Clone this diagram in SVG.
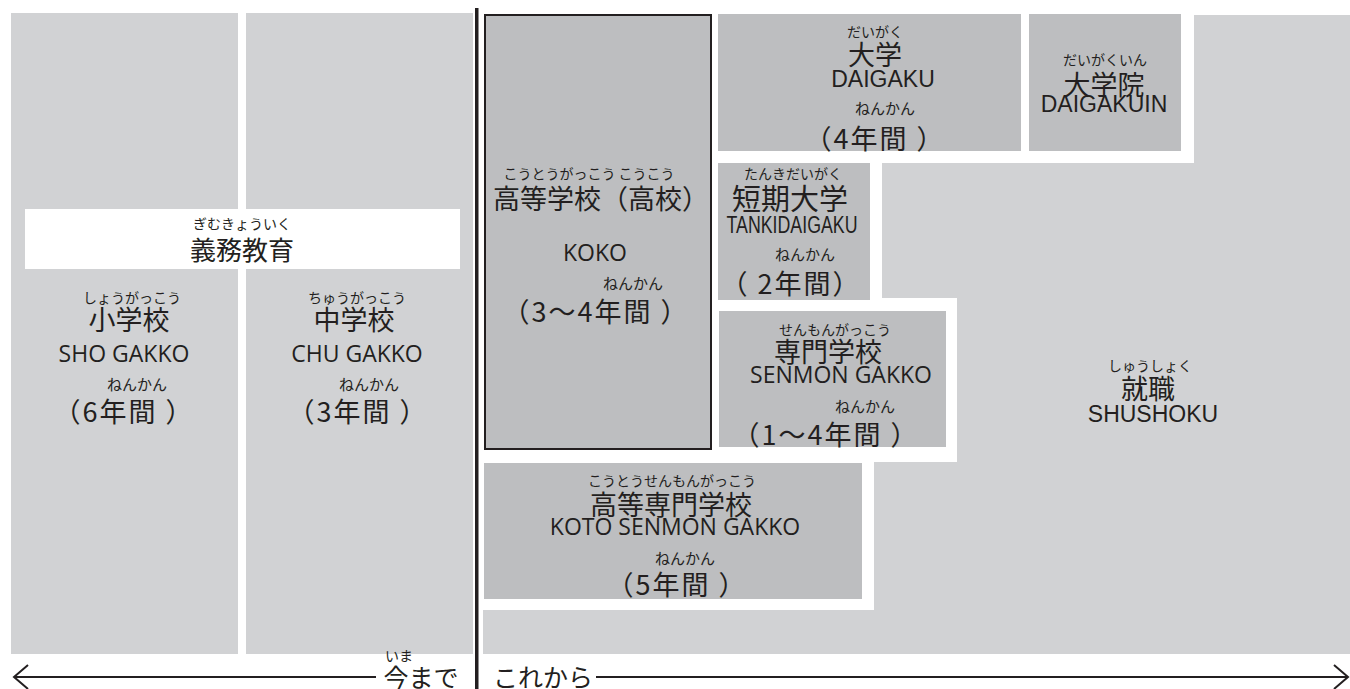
<svg xmlns="http://www.w3.org/2000/svg" width="1350" height="689" viewBox="0 0 1350 689">
<style>
.lt{fill:#d1d2d4}
.dk{fill:#bdbec0}
.jp{font-family:"Noto Sans CJK JP",sans-serif;fill:#231f20;text-anchor:middle;dominant-baseline:central}
.rb{font-size:14px}
.nk{font-size:15px}
.mn{font-size:27px}
.du{font-size:27px;letter-spacing:2px}
.os{font-family:"Open Sans",sans-serif;font-size:23px;fill:#231f20;text-anchor:middle}
.ar{font-family:"Liberation Sans",Arial,sans-serif;font-size:23px;fill:#231f20;text-anchor:middle}
.ln{stroke:#231f20;fill:none}
</style>
<rect width="1350" height="689" fill="#ffffff"/>
<g id="bg-shushoku">
<polygon class="lt" points="483,610 874,610 874,462 957,462 957,298 882,298 882,163 1194,163 1194,15 1350,15 1350,654 483,654"/>
</g>
<g id="shogakko">
<rect class="lt" x="11" y="13" width="227" height="641"/>
</g>
<g id="chugakko">
<rect class="lt" x="246" y="13" width="227" height="641"/>
</g>
<g id="gimukyoiku">
<rect x="25" y="209" width="435" height="60" fill="#ffffff"/>
<text class="jp rb" x="242" y="223">ぎむきょういく</text>
<text class="jp" x="242" y="248" font-size="26">義務教育</text>
</g>
<g id="shogakko-label">
<text class="jp rb" x="132" y="297">しょうがっこう</text>
<text class="jp mn" x="129" y="318">小学校</text>
<text class="os" x="124" y="362">SHO GAKKO</text>
<text class="jp nk" x="137" y="383">ねんかん</text>
<text class="jp du" x="124" y="410">（6年間 ）</text>
</g>
<g id="chugakko-label">
<text class="jp rb" x="357" y="297">ちゅうがっこう</text>
<text class="jp mn" x="354" y="318">中学校</text>
<text class="os" x="357" y="362">CHU GAKKO</text>
<text class="jp nk" x="369" y="383">ねんかん</text>
<text class="jp du" x="358" y="410">（3年間 ）</text>
</g>
<g id="koko">
<rect class="dk" x="485" y="15" width="226" height="434" stroke="#231f20" stroke-width="2"/>
<text class="jp rb" x="589" y="173">こうとうがっこう こうこう</text>
<text class="jp mn" x="601" y="197">高等学校（高校）</text>
<text class="os" x="595" y="261">KOKO</text>
<text class="jp nk" x="633" y="282">ねんかん</text>
<text class="jp du" x="596" y="310">（3～4年間 ）</text>
</g>
<g id="daigaku">
<rect class="dk" x="718" y="14" width="303" height="137"/>
<text class="jp rb" x="875" y="31">だいがく</text>
<text class="jp mn" x="875" y="53">大学</text>
<text class="ar" x="883" y="87">DAIGAKU</text>
<text class="jp nk" x="885" y="107">ねんかん</text>
<text class="jp du" x="875" y="137">（4年間 ）</text>
</g>
<g id="daigakuin">
<rect class="dk" x="1029" y="14" width="152" height="137"/>
<text class="jp rb" x="1105" y="59">だいがくいん</text>
<text class="jp mn" x="1104" y="83">大学院</text>
<text class="ar" x="1104" y="112">DAIGAKUIN</text>
</g>
<g id="tankidaigaku">
<rect class="dk" x="718" y="163" width="152" height="137"/>
<text class="jp rb" x="793" y="173">たんきだいがく</text>
<text class="jp" x="790" y="197" font-size="29">短期大学</text>
<text class="ar" x="792" y="233" textLength="131" lengthAdjust="spacingAndGlyphs" font-size="21">TANKIDAIGAKU</text>
<text class="jp nk" x="805" y="253">ねんかん</text>
<text class="jp du" x="791" y="282">（ 2年間）</text>
</g>
<g id="senmongakko">
<rect class="dk" x="719" y="311" width="227" height="136"/>
<text class="jp rb" x="835" y="329">せんもんがっこう</text>
<text class="jp mn" x="828" y="350">専門学校</text>
<text class="os" x="841" y="383">SENMON GAKKO</text>
<text class="jp nk" x="865" y="405">ねんかん</text>
<text class="jp du" x="826" y="433">（1～4年間 ）</text>
</g>
<g id="kotosenmongakko">
<rect class="dk" x="484" y="463" width="378" height="136"/>
<text class="jp rb" x="672" y="480">こうとうせんもんがっこう</text>
<text class="jp mn" x="671" y="503">高等専門学校</text>
<text class="os" x="675" y="535">KOTO SENMON GAKKO</text>
<text class="jp nk" x="685" y="557">ねんかん</text>
<text class="jp du" x="677" y="583">（5年間 ）</text>
</g>
<g id="shushoku">
<text class="jp rb" x="1150" y="365">しゅうしょく</text>
<text class="jp mn" x="1148" y="387">就職</text>
<text class="ar" x="1153" y="422" font-size="22">SHUSHOKU</text>
</g>
<g id="connectors">
<line class="ln" x1="476.75" y1="8" x2="476.75" y2="689" stroke-width="3.5"/>
<line class="ln" x1="14" y1="677" x2="376" y2="677" stroke-width="2"/>
<polyline class="ln" points="28,665 14,677 28,689" stroke-width="2"/>
<line class="ln" x1="596" y1="677" x2="1347" y2="677" stroke-width="2"/>
<polyline class="ln" points="1334,665 1348,677 1334,689" stroke-width="2"/>
</g>
<g id="timeline-labels">
<text class="jp rb" x="399" y="655">いま</text>
<text class="jp" x="421" y="676" font-size="25">今まで</text>
<text class="jp" x="543" y="676" font-size="25">これから</text>
</g>
</svg>
